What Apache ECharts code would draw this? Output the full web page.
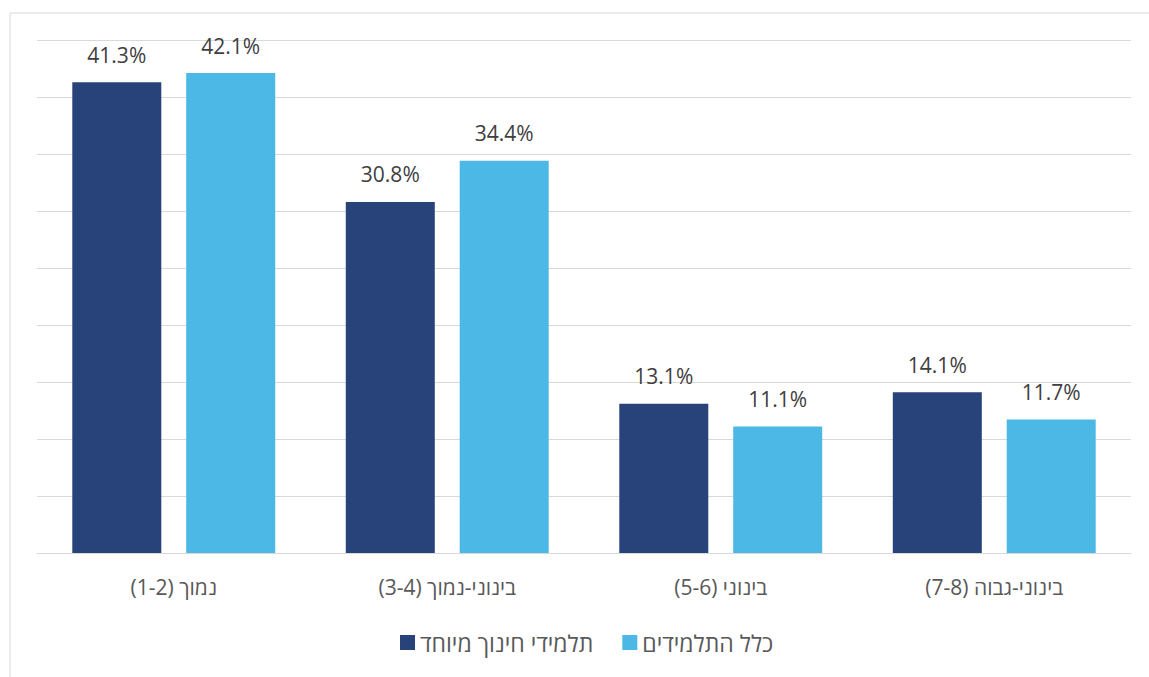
<!DOCTYPE html>
<html>
<head>
<meta charset="utf-8">
<script src="https://cdn.jsdelivr.net/npm/echarts@6/dist/echarts.min.js"></script>
<style>
html,body{margin:0;padding:0;background:#fff;}
#c{width:1149px;height:677px;}
</style>
</head>
<body>
<div id="c"></div>
<script>
const categories = ['נמוך (1-2)', 'בינוני-נמוך (3-4)', 'בינוני (5-6)', 'בינוני-גבוה (7-8)'];
const seriesNames = ['תלמידי חינוך מיוחד', 'כלל התלמידים'];
const specialEd = [41.3, 30.8, 13.1, 14.1];
const allStudents = [42.1, 34.4, 11.1, 11.7];

const FONT = "'Open Sans', 'Liberation Sans', 'DejaVu Sans', sans-serif";
const rtl = s => '\u2067' + s + '\u2069';
const chart = echarts.init(document.getElementById('c'), null, { renderer: 'svg' });
chart.setOption({
  animation: false,
  backgroundColor: '#fff',
  graphic: [{
    type: 'rect', left: 7.5, top: 10.5,
    shape: { width: 1160, height: 700 },
    style: { fill: 'none', stroke: '#d9d9d9', lineWidth: 1 }, silent: true
  }],
  grid: { left: 37, right: 18, top: 40, bottom: 124 },
  legend: {
    top: 626, left: 395,
    itemWidth: 15, itemHeight: 15, itemGap: 29,
    icon: 'rect',
    formatter: name => rtl(name),
    textStyle: { fontSize: 23, color: '#595959', fontFamily: FONT },
    data: seriesNames
  },
  xAxis: {
    type: 'category', data: categories,
    axisLine: { lineStyle: { color: '#d9d9d9', width: 1 } },
    axisTick: { show: false },
    axisLabel: { fontSize: 21, color: '#595959', fontFamily: FONT, margin: 23, formatter: v => rtl(v) }
  },
  yAxis: {
    type: 'value', min: 0, max: 45, interval: 5,
    axisLabel: { show: false }, axisLine: { show: false }, axisTick: { show: false },
    splitLine: { lineStyle: { color: '#d9d9d9', width: 1 } }
  },
  series: [
    {
      name: seriesNames[0], type: 'bar', data: specialEd,
      barWidth: 89, barGap: '28%',
      itemStyle: { color: '#27437A' },
      label: { show: true, position: 'top', distance: 17, formatter: p => p.value.toFixed(1) + '%',
        fontSize: 21, color: '#404040', fontFamily: FONT }
    },
    {
      name: seriesNames[1], type: 'bar', data: allStudents,
      barWidth: 89,
      itemStyle: { color: '#4CB8E6' },
      label: { show: true, position: 'top', distance: 17, formatter: p => p.value.toFixed(1) + '%',
        fontSize: 21, color: '#404040', fontFamily: FONT }
    }
  ]
});
</script>
</body>
</html>
